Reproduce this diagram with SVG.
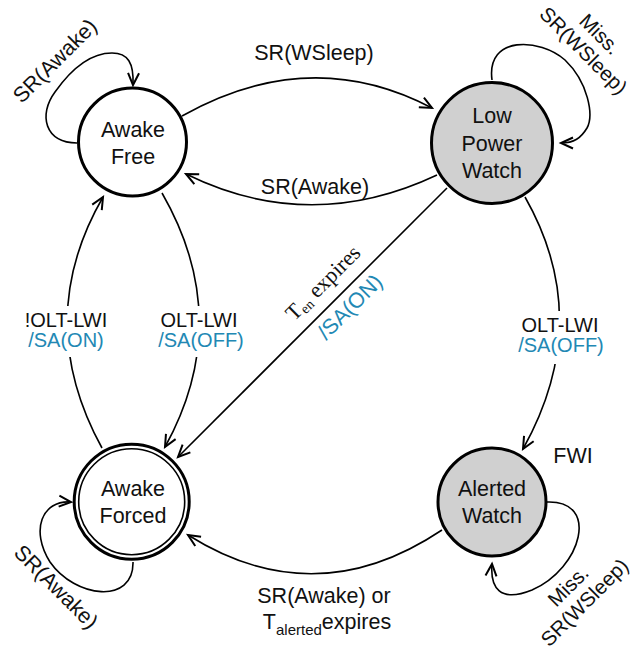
<svg xmlns="http://www.w3.org/2000/svg" width="635" height="651" viewBox="0 0 635 651">
<defs>
<marker id="arr" markerUnits="userSpaceOnUse" markerWidth="16" markerHeight="16" refX="13" refY="7" orient="auto">
<path d="M1,1.5 L13,7 L1,12.5" fill="none" stroke="#000" stroke-width="2"/>
</marker>
<style>
.t{font-family:"Liberation Sans",Arial,sans-serif;font-size:21.5px;fill:#111;text-anchor:middle}
.m{font-size:20px}
.l{font-size:20.5px}
.b{fill:#2288b4}
.s{font-family:"Liberation Serif","Times New Roman",serif;font-size:22px;fill:#111;text-anchor:middle}
.n{stroke:#000;stroke-width:3;fill:#fff}
.g{fill:#d0d0d0}
.e{fill:none;stroke:#000;stroke-width:1.6}
</style>
</defs>
<rect width="635" height="651" fill="#fff"/>
<g id="connectors">
<path class="e" d="M182,116 Q310,44 432,108" marker-end="url(#arr)"/>
<path class="e" d="M437,175 Q310,235 186,174" marker-end="url(#arr)"/>
<path class="e" d="M447,188 L178,457" marker-end="url(#arr)"/>
<path class="e" d="M162,193 Q235,320 165,447" marker-end="url(#arr)"/>
<path class="e" d="M102,448 Q32,320 103,197" marker-end="url(#arr)"/>
<path class="e" d="M525,197 Q595,320 523,449" marker-end="url(#arr)"/>
<path class="e" d="M442,530 Q315,615 188,535" marker-end="url(#arr)"/>
<path class="e" d="M77,143 C45,143 38,115 55,92 C72,68 92,53 112,53 C128,53 134,63 133,85" marker-end="url(#arr)"/>
<path class="e" d="M492,80 C486,35 540,38 565,60 C588,82 594,115 587,128 C581,138 574,143 561,143" marker-end="url(#arr)"/>
<path class="e" d="M133,562 C134,605 75,598 50,562 C30,530 42,500 71,502" marker-end="url(#arr)"/>
<path class="e" d="M547,502 C600,500 582,568 532,590 C500,603 490,588 492,564" marker-end="url(#arr)"/>
<rect x="14" y="306" width="104" height="51" fill="#fff"/>
<rect x="150" y="306" width="102" height="51" fill="#fff"/>
<rect x="510" y="311" width="102" height="53" fill="#fff"/>
<text class="t" x="314" y="60">SR(WSleep)</text>
<text class="t" x="315" y="194">SR(Awake)</text>
<text class="t m" x="66" y="327">!OLT-LWI</text>
<text class="t m b" x="66" y="347">/SA(ON)</text>
<text class="t m" x="199" y="327">OLT-LWI</text>
<text class="t m b" x="201" y="347">/SA(OFF)</text>
<text class="t m" x="560" y="332">OLT-LWI</text>
<text class="t m b" x="561" y="352">/SA(OFF)</text>
<text class="s" transform="translate(328,288) rotate(-45)">T<tspan font-size="14" dy="3">en</tspan><tspan dy="-3"> expires</tspan></text>
<text class="t b" transform="translate(355,312) rotate(-45)">/SA(ON)</text>
<text class="t" transform="translate(60,66) rotate(-45)">SR(Awake)</text>
<text class="t" transform="translate(51,592) rotate(45)">SR(Awake)</text>
<g transform="translate(592,42) rotate(45)">
<text class="t l" y="-4">Miss.</text>
<text class="t l" y="19">SR(WSleep)</text>
</g>
<g transform="translate(576,594) rotate(-45)">
<text class="t l" y="-4">Miss.</text>
<text class="t l" y="19">SR(WSleep)</text>
</g>
<text class="t" x="324" y="603">SR(Awake) or</text>
<text class="t" x="327" y="629">T<tspan font-size="15" dy="6">alerted</tspan><tspan dy="-6">expires</tspan></text>
<text class="t" x="573" y="463">FWI</text>
</g>
<g id="awake-free">
<circle class="n" cx="132.5" cy="142" r="54"/>
<text class="t" x="133" y="137">Awake</text>
<text class="t" x="133" y="164">Free</text>
</g>
<g id="low-power-watch">
<circle class="n g" cx="492" cy="143" r="60.5"/>
<text class="t" x="492" y="123">Low</text>
<text class="t" x="492" y="151">Power</text>
<text class="t" x="492" y="178">Watch</text>
</g>
<g id="awake-forced">
<circle class="n" cx="131.7" cy="501.7" r="57.5"/>
<circle cx="131.7" cy="501.7" r="53" fill="none" stroke="#000" stroke-width="1.6"/>
<text class="t" x="133" y="496">Awake</text>
<text class="t" x="133" y="523">Forced</text>
</g>
<g id="alerted-watch">
<circle class="n g" cx="492" cy="502" r="54"/>
<text class="t" x="492" y="496">Alerted</text>
<text class="t" x="492" y="523">Watch</text>
</g>
</svg>
